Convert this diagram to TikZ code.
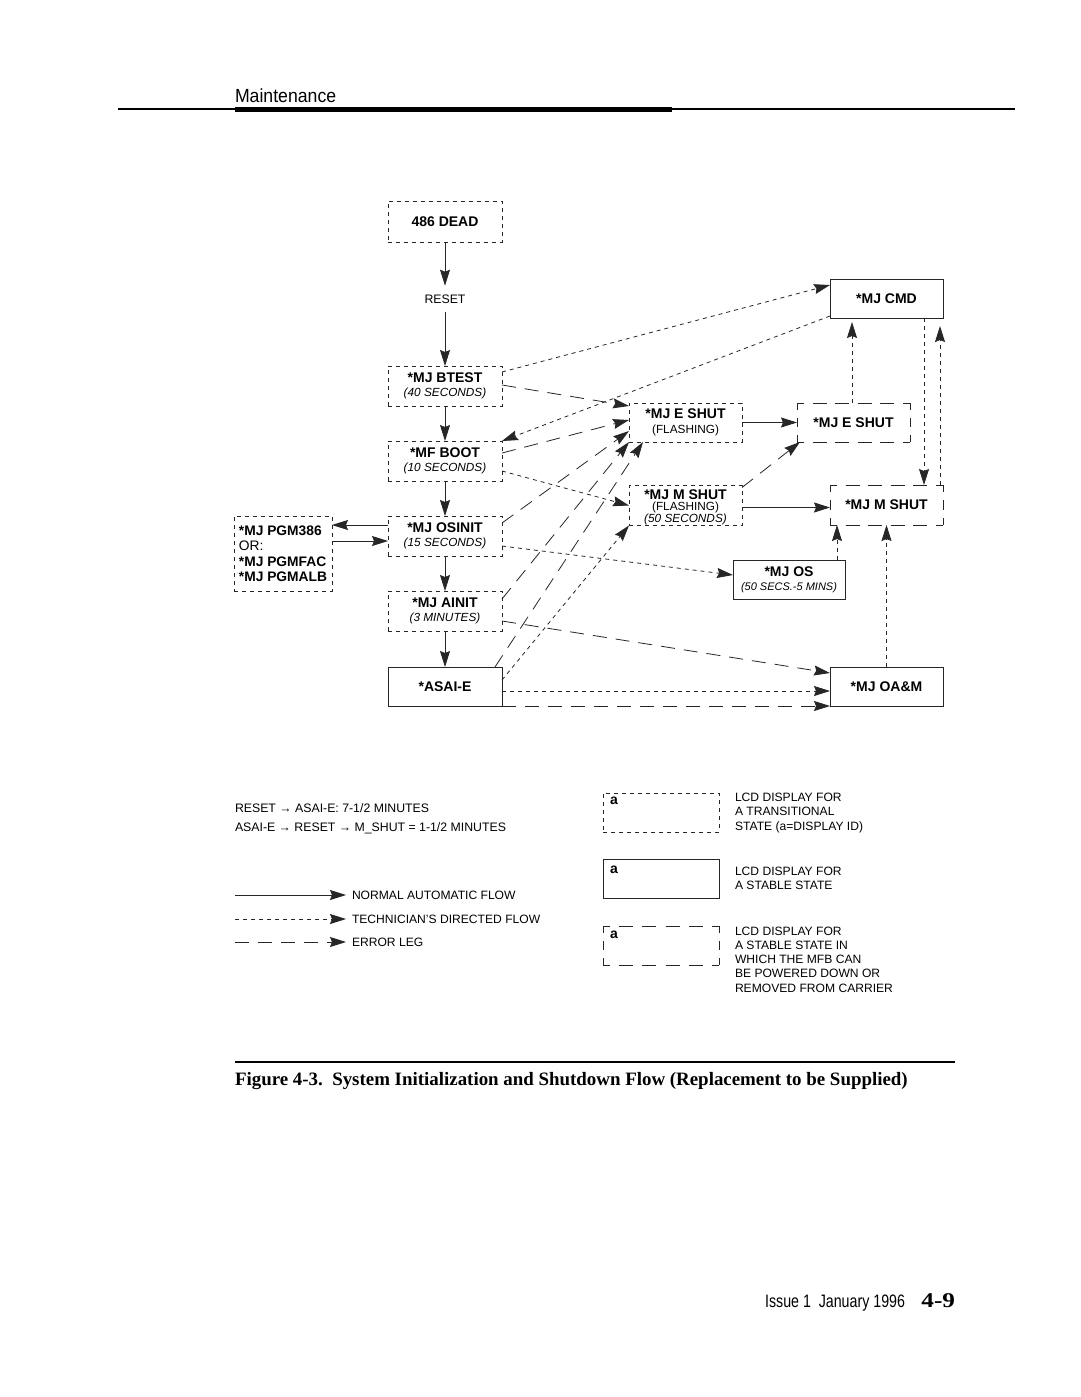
\documentclass[tikz,border=0pt]{standalone}
\usepackage{fontspec}
\usepackage{graphicx}
\setmainfont{Liberation Sans}
\newfontfamily\capfont{Liberation Serif}
\usetikzlibrary{arrows.meta,calc}
\newcommand{\boxfont}{\fontsize{14}{14.5}\selectfont}
\newcommand{\legfont}{\fontsize{12.1}{14.5}\selectfont}
\newcommand{\subt}[1]{{\fontsize{11.8}{13}\selectfont\mdseries\itshape #1}}
\newcommand{\subu}[1]{{\fontsize{11.8}{13}\selectfont\mdseries #1}}
% long-dash frame with corner pieces: node, horizontal gap, vertical middle dash, vertical gap
\newcommand{\pdframe}[4]{%
  \draw[ln, dash pattern=on 7pt off #2 on 14pt off #2 on 14pt off #2 on 14pt off #2 on 14pt off #2 on 7pt off 60pt] (#1.north west) -- (#1.north east);
  \draw[ln, dash pattern=on 7pt off #2 on 14pt off #2 on 14pt off #2 on 14pt off #2 on 14pt off #2 on 7pt off 60pt] (#1.south west) -- (#1.south east);
  \draw[ln, dash pattern=on 7pt off #4 on #3 off #4 on 7pt off 60pt] (#1.north west) -- (#1.south west);
  \draw[ln, dash pattern=on 7pt off #4 on #3 off #4 on 7pt off 60pt] (#1.north east) -- (#1.south east);
}
\begin{document}
\begin{tikzpicture}[x=1pt,y=-1pt,
  every node/.style={inner sep=0pt, outer sep=0pt},
  ln/.style={line width=0.8pt, draw=black!85},
  tip/.style={-{Stealth[length=16pt,width=10pt,inset=2pt]}},
  normal/.style={ln,tip},
  tech/.style={ln,tip,dash pattern=on 4pt off 4pt},
  err/.style={ln,tip,dash pattern=on 14pt off 9pt},
  box/.style={minimum width=114pt, minimum height=40pt, align=center, font=\boxfont},
  transbox/.style={box, ln, dash pattern=on 4pt off 4pt},
  stablebox/.style={box, ln},
  pdbox/.style={box},
]
\fill[white] (0,0) rectangle (1080,1397);
\useasboundingbox (0,0) rectangle (1080,1397);

% header
\draw[line width=1.2pt] (118,109) -- (1015,109);
\fill (235,106.5) rectangle (672,112);
\node[anchor=base west, font=\fontsize{19}{20}\selectfont] (hdr) at (235,102) {\scalebox{0.93}[1]{Maintenance}};

% main nodes
\node[transbox, minimum height=41pt] (dead) at (445,221.5) {\textbf{486 DEAD}};
\node[font=\fontsize{12.3}{13}\selectfont, inner ysep=9pt, text depth=0pt] (reset) at (445,299) {RESET};
\node[transbox] (btest) at (445,386) {\textbf{*MJ BTEST}\\\subt{(40 SECONDS)}};
\node[transbox] (boot) at (445,461) {\textbf{*MF BOOT}\\\subt{(10 SECONDS)}};
\node[transbox] (osinit) at (445,536) {\textbf{*MJ OSINIT}\\\subt{(15 SECONDS)}};
\node[transbox] (ainit) at (445,611) {\textbf{*MJ AINIT}\\\subt{(3 MINUTES)}};
\node[stablebox, minimum height=39pt] (asai) at (445,686.5) {\textbf{*ASAI-E}};
\node[transbox, minimum width=98pt, minimum height=75pt, align=left, font=\fontsize{13.8}{15.5}\selectfont] (pgm) at (283,553.5) {\textbf{*MJ PGM386}\\OR:\\\textbf{*MJ PGMFAC}\\\textbf{*MJ PGMALB}};

\node[transbox, minimum width=113pt, minimum height=39pt] (eshutf) at (685.5,422.5) {\textbf{*MJ E SHUT}\\\subu{(FLASHING)}};
\node[transbox, minimum width=113pt] (mshutf) at (685.5,505.5) {\rule{0pt}{13pt}\textbf{*MJ M SHUT}\\[-3pt]\subu{(FLASHING)}\\[-3pt]\subt{(50 SECONDS)}};
\node[pdbox, minimum width=113pt, minimum height=39pt] (eshuts) at (853.5,422.5) {\textbf{*MJ E SHUT}};
\node[pdbox, minimum width=113pt] (mshuts) at (886.5,505) {\textbf{*MJ M SHUT}};
\pdframe{eshuts}{8.6pt}{9pt}{8pt}
\pdframe{mshuts}{8.6pt}{10pt}{8pt}
\node[stablebox, minimum width=113pt, minimum height=39pt] (cmd) at (886.5,298.5) {\textbf{*MJ CMD}};
\node[stablebox, minimum width=112pt, minimum height=39pt] (os) at (789,579.5) {\textbf{*MJ OS}\\{\fontsize{11}{13}\selectfont\mdseries\itshape (50 SECS.-5 MINS)}};
\node[stablebox, minimum width=113pt, minimum height=39pt] (oam) at (886.5,686.5) {\textbf{*MJ OA\&M}};

% normal flow
\draw[normal] (dead) -- (reset);
\draw[normal] (reset) -- (btest);
\draw[normal] (btest) -- (boot);
\draw[normal] (boot) -- (osinit);
\draw[normal] (osinit) -- (ainit);
\draw[normal] (ainit) -- (asai);
\draw[normal] ([yshift=11pt]osinit.west) -- ([yshift=11pt]osinit.west -| pgm.east);
\draw[normal] ([yshift=-5pt]osinit.west -| pgm.east) -- ([yshift=-5pt]osinit.west);
\draw[normal] (eshutf) -- (eshuts);
\draw[normal] ([yshift=-2pt]mshutf.east) -- ([yshift=-2pt]mshutf.east -| mshuts.west);

% technician's directed flow
\draw[tech] ([yshift=-6pt]btest.north east) -- ([yshift=-6pt]cmd.north west);
\draw[tech] ([yshift=2pt]cmd.south west) -- (boot.north east);
\draw[tech] ([yshift=-10pt]boot.east) -- (mshutf.west);
\draw[tech] ([yshift=-10pt]osinit.east) -- ([yshift=4.5pt]os.west);
\draw[tech] ([yshift=6.5pt]asai.east) -- (mshutf.south west);
\draw[tech] ([yshift=-4.5pt]asai.east) -- ([yshift=-4.5pt]asai.east -| oam.west);
\draw[tech] ([xshift=48pt]os.north) -- ([xshift=48pt]os.north |- mshuts.south);
\draw[tech] (oam.north) -- (mshuts.south);
\draw[tech, shorten >=4pt] ([xshift=-1.5pt]eshuts.north) -- ([xshift=-1.5pt]eshuts.north |- cmd.south);
\draw[tech] ([xshift=37.5pt]cmd.south) -- ([xshift=37.5pt]cmd.south |- mshuts.north);
\draw[tech, shorten >=8pt] ([xshift=53.5pt]mshuts.north) -- ([xshift=53.5pt]mshuts.north |- cmd.south);

% error legs
\draw[err] ([yshift=1pt]btest.east) -- ([yshift=-3pt]eshutf.north west);
\draw[err] ([yshift=8pt]boot.east) -- ([yshift=2.5pt]eshutf.west);
\draw[err] ([yshift=13pt]osinit.east) -- ([yshift=-8.5pt]eshutf.west);
\draw[err] ([yshift=12pt]ainit.east) -- (eshutf.south west);
\draw[err] ([xshift=50pt]asai.north) -- ([xshift=-42.5pt]eshutf.south);
\draw[err] ([yshift=-10pt]ainit.east) -- ([yshift=-6pt]oam.north west);
\draw[err] (asai.south east) -- (oam.south west);
\draw[err] ([yshift=-2pt]mshutf.north east) -- ([xshift=3pt]eshuts.south west);

% timing notes
\node[anchor=west, font=\fontsize{12.3}{13}\selectfont] (note1) at (235,808) {RESET → ASAI-E: 7-1/2 MINUTES};
\node[anchor=west, font=\fontsize{12.3}{13}\selectfont] (note2) at (235,828) {ASAI-E → RESET → M\_SHUT = 1-1/2 MINUTES};

% line legend
\coordinate (l1) at (235,895);
\coordinate (l2) at (235,919);
\coordinate (l3) at (235,942);
\node[anchor=west, font=\legfont] (n1) at (352,895) {NORMAL AUTOMATIC FLOW};
\node[anchor=west, font=\legfont] (n2) at (352,919) {TECHNICIAN'S DIRECTED FLOW};
\node[anchor=west, font=\legfont] (n3) at (352,942) {ERROR LEG};
\draw[normal] (l1) -- ([xshift=-6pt]n1.west);
\draw[tech] (l2) -- ([xshift=-6pt]n2.west);
\draw[err] (l3) -- ([xshift=-6pt]n3.west);

% box legend
\node[transbox, minimum width=116pt, minimum height=39pt] (lb1) at (661,812.5) {};
\node[stablebox, minimum width=116pt, minimum height=39pt] (lb2) at (661,878.5) {};
\node[pdbox, minimum width=116pt, minimum height=39pt] (lb3) at (661,945.5) {};
\pdframe{lb3}{9.2pt}{9pt}{8pt}
\node[anchor=base west, font=\boxfont\bfseries] (la1) at (610,804) {a};
\node[anchor=base west, font=\boxfont\bfseries] (la2) at (610,873) {a};
\node[anchor=base west, font=\boxfont\bfseries] (la3) at (610,938) {a};
\node[anchor=north west, align=left, font=\legfont] (lt1) at (735,792.7) {LCD DISPLAY FOR\\A TRANSITIONAL\\STATE (a=DISPLAY ID)};
\node[anchor=north west, align=left, font=\legfont] (lt2) at (735,866.7) {LCD DISPLAY FOR\\A STABLE STATE};
\node[anchor=north west, align=left, font=\fontsize{12.1}{14.25}\selectfont] (lt3) at (735,926.7) {LCD DISPLAY FOR\\A STABLE STATE IN\\WHICH THE MFB CAN\\BE POWERED DOWN OR\\REMOVED FROM CARRIER};

% caption
\draw[line width=2pt] (235,1062) -- (955,1062);
\node[anchor=base west, font=\capfont\bfseries\fontsize{18.9}{20}\selectfont] (cap) at (235,1085) {Figure 4-3.\ \ System Initialization and Shutdown Flow (Replacement to be Supplied)};

% footer
\node[anchor=base east, font=\fontsize{18}{20}\selectfont] (iss) at (905,1307) {\scalebox{0.79}[1]{Issue 1\ \ January 1996}};
\node[anchor=base east, font=\capfont\bfseries\fontsize{21}{22}\selectfont] (pg) at (955,1307) {\scalebox{1.2}[1]{4-9}};
\end{tikzpicture}
\end{document}
